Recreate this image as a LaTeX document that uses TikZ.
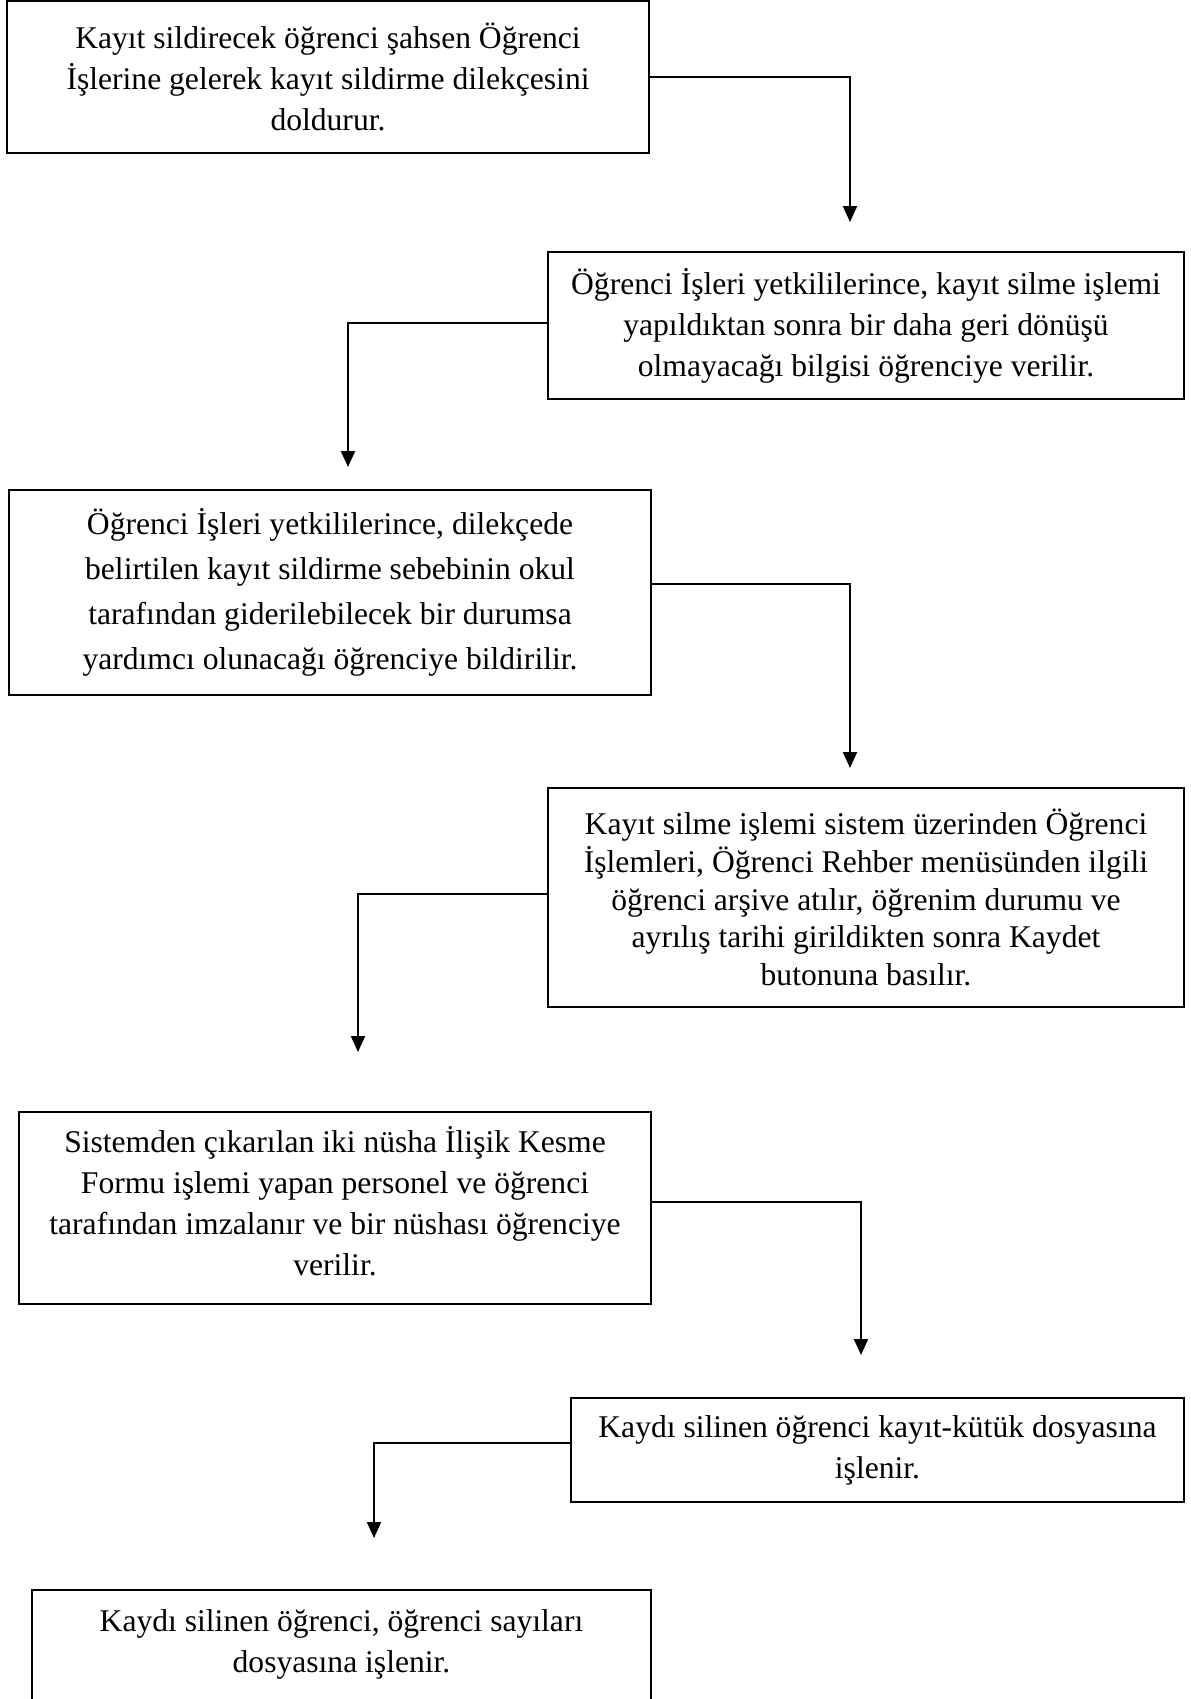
\documentclass[tikz,border=0pt]{standalone}
\usepackage{fontspec}
\setmainfont{Liberation Serif}
\usetikzlibrary{arrows.meta}

\begin{document}
\begin{tikzpicture}[->,>={Triangle[length=8pt,width=7pt]},line width=1pt,
		process box/.style={rectangle,draw,line width=1.1pt,inner sep=0pt,align=center,
			font=\fontsize{15.8}{20.5}\selectfont},
		flow text/.style={align=center,font=\fontsize{15.8}{20.5}\selectfont}]

		\useasboundingbox (0,0) rectangle (595pt,-849.5pt);
		\clip (0,0) rectangle (595pt,-849.5pt);

		\node[process box, minimum width=321pt, minimum height=76pt] (1) at (164pt,-38.5pt)
			{Kayıt sildirecek öğrenci şahsen Öğrenci\\İşlerine gelerek kayıt sildirme dilekçesini\\doldurur.};
		\node[process box, minimum width=318pt, minimum height=73.5pt] (2) at (433pt,-162.75pt)
			{Öğrenci İşleri yetkililerince, kayıt silme işlemi\\yapıldıktan sonra bir daha geri dönüşü\\olmayacağı bilgisi öğrenciye verilir.};
		\node[process box, minimum width=321pt, minimum height=102.5pt,
			font=\fontsize{15.8}{22.5}\selectfont] (3) at (165pt,-296.25pt)
			{Öğrenci İşleri yetkililerince, dilekçede\\belirtilen kayıt sildirme sebebinin okul\\tarafından giderilebilecek bir durumsa\\yardımcı olunacağı öğrenciye bildirilir.};
		\node[process box, minimum width=318pt, minimum height=109.5pt,
			font=\fontsize{15.8}{18.9}\selectfont] (4) at (433pt,-448.75pt)
			{Kayıt silme işlemi sistem üzerinden Öğrenci\\İşlemleri, Öğrenci Rehber menüsünden ilgili\\öğrenci arşive atılır, öğrenim durumu ve\\ayrılış tarihi girildikten sonra Kaydet\\butonuna basılır.};
		\node[process box, minimum width=316pt, minimum height=96pt, text depth=7.5pt] (5) at (167.5pt,-604pt)
			{Sistemden çıkarılan iki nüsha İlişik Kesme\\Formu işlemi yapan personel ve öğrenci\\tarafından imzalanır ve bir nüshası öğrenciye\\verilir.};
		\node[process box, minimum width=306.5pt, minimum height=52pt] (6) at (438.75pt,-725pt)
			{Kaydı silinen öğrenci kayıt-kütük dosyasına\\işlenir.};
		\node[process box, minimum width=309.5pt, minimum height=90pt, anchor=north] (7) at (170.75pt,-794.5pt) {};
		\node[flow text] (7t) at (170.75pt,-822pt)
			{Kaydı silinen öğrenci, öğrenci sayıları\\dosyasına işlenir.};

		% arrow ends
		\coordinate (a1) at (425pt,-111pt);
		\coordinate (a2) at (174pt,-233.5pt);
		\coordinate (a3) at (425pt,-384pt);
		\coordinate (a4) at (179pt,-526pt);
		\coordinate (a5) at (430.5pt,-677.5pt);
		\coordinate (a6) at (187pt,-769pt);

		\draw (1.east) -| (a1);
		\draw ([yshift=1.25pt]2.west) -| (a2);
		\draw ([yshift=4.25pt]3.east) -| (a3);
		\draw ([yshift=1.75pt]4.west) -| (a4);
		\draw ([yshift=3pt]5.east) -| (a5);
		\draw ([yshift=3.5pt]6.west) -| (a6);
\end{tikzpicture}
\end{document}
